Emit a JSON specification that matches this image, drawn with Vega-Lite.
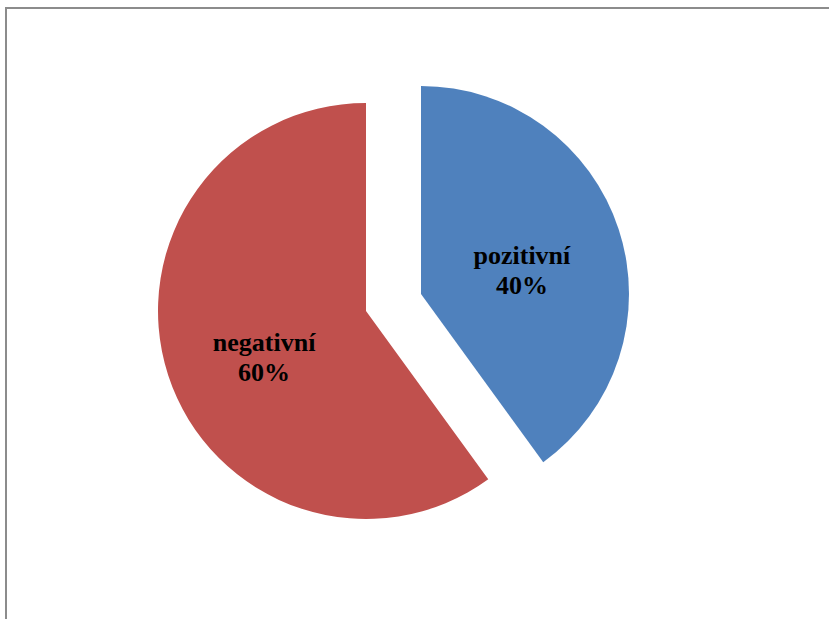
{
  "$schema": "https://vega.github.io/schema/vega-lite/v6.json",
  "width": 830,
  "height": 620,
  "padding": {"left": 6, "top": 8, "right": 0, "bottom": 0},
  "background": "white",
  "view": {"stroke": "#8c8c8c", "strokeWidth": 2},
  "config": {"view": {"stroke": "#8c8c8c", "strokeWidth": 2}},
  "data": {
    "values": [
      {"category": "pozitivní", "value": 40, "order": 1, "label": "pozitivní\n40%"},
      {"category": "negativní", "value": 60, "order": 2, "label": "negativní\n60%"}
    ]
  },
  "transform": [
    {"stack": "value", "groupby": [], "sort": [{"field": "order"}], "as": ["v0", "v1"]},
    {"calculate": "(datum.v0 + datum.v1) / 2", "as": "mid"}
  ],
  "encoding": {
    "color": {"field": "category", "type": "nominal", "scale": {"domain": ["pozitivní", "negativní"], "range": ["#4F81BD", "#C0504D"]}, "legend": null}
  },
  "layer": [
    {
      "transform": [{"filter": "datum.category === 'pozitivní'"}],
      "layer": [
        {"mark": {"type": "arc", "outerRadius": 208, "xOffset": 0, "yOffset": -24},
         "encoding": {"theta": {"field": "v0", "type": "quantitative", "scale": {"domain": [0, 100], "range": [0, 6.283185307]}}, "theta2": {"field": "v1"}}},
        {"mark": {"type": "text", "radius": 104, "xOffset": 2, "yOffset": -30, "font": "Liberation Serif", "fontWeight": "bold", "fontSize": 26, "lineBreak": "\n", "lineHeight": 30, "baseline": "middle", "align": "center"},
         "encoding": {"theta": {"field": "mid", "type": "quantitative", "scale": {"domain": [0, 100], "range": [0, 6.283185307]}}, "text": {"field": "label"}, "color": {"value": "black"}}}
      ]
    },
    {
      "transform": [{"filter": "datum.category === 'negativní'"}],
      "layer": [
        {"mark": {"type": "arc", "outerRadius": 208, "xOffset": -55, "yOffset": -7},
         "encoding": {"theta": {"field": "v0", "type": "quantitative", "scale": {"domain": [0, 100], "range": [0, 6.283185307]}}, "theta2": {"field": "v1"}}},
        {"mark": {"type": "text", "radius": 104, "xOffset": -58, "yOffset": -7, "font": "Liberation Serif", "fontWeight": "bold", "fontSize": 26, "lineBreak": "\n", "lineHeight": 30, "baseline": "middle", "align": "center"},
         "encoding": {"theta": {"field": "mid", "type": "quantitative", "scale": {"domain": [0, 100], "range": [0, 6.283185307]}}, "text": {"field": "label"}, "color": {"value": "black"}}}
      ]
    }
  ]
}
